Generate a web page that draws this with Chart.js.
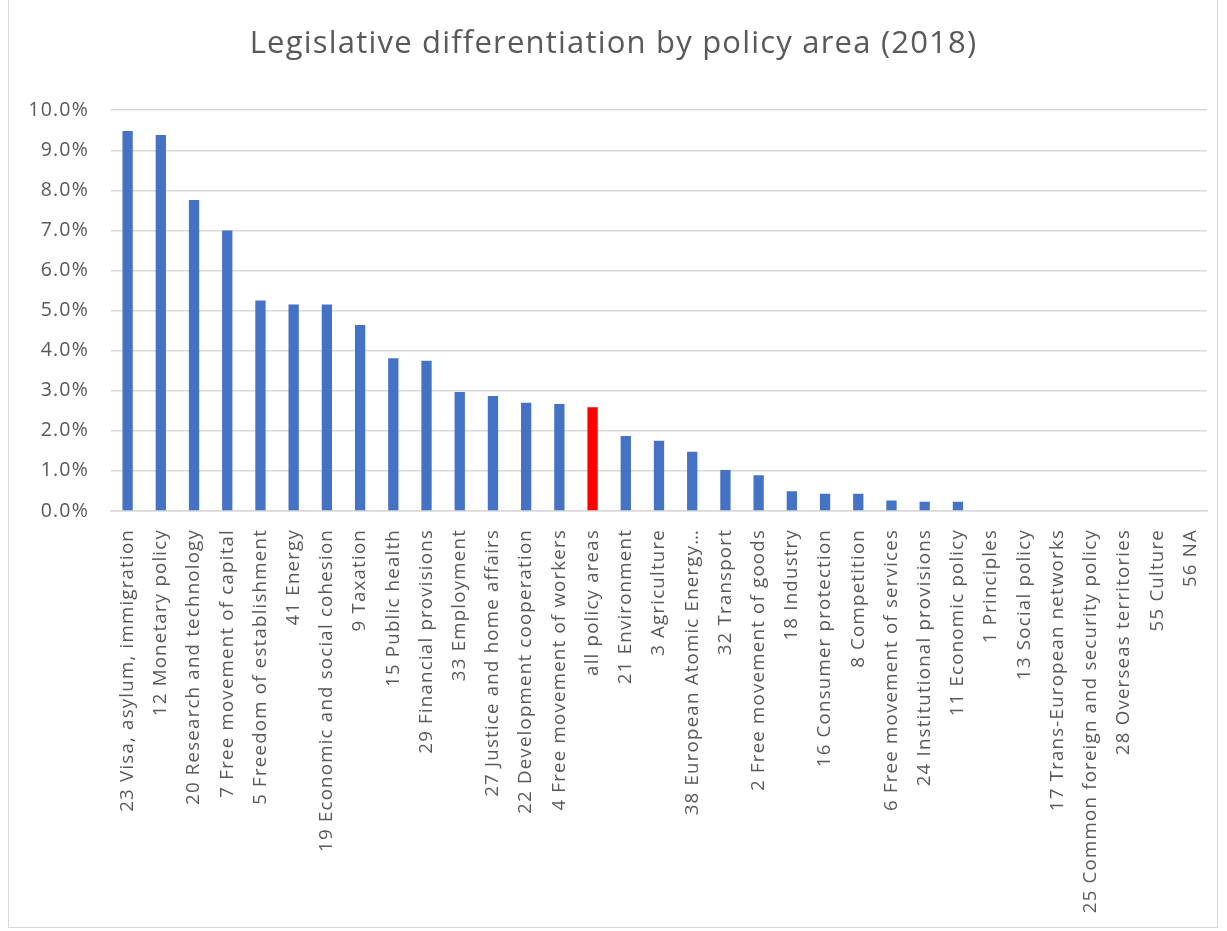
<!DOCTYPE html>
<html>
<head>
    <title>Legislative differentiation by policy area (2018)</title>
    <script src="https://cdn.jsdelivr.net/npm/chart.js"></script>
    <style>
        html, body { margin: 0; padding: 0; background: #fff; }
        #wrap { position: absolute; left: 8px; top: 0; width: 1210px; height: 928px; border: 1px solid #d9d9d9; border-top: none; box-sizing: border-box; }
        #holder { position: absolute; left: 0; top: 0; width: 1227px; height: 931px; }
    </style>
</head>
<body>
    <div id="wrap"></div>
    <div id="holder"><canvas id="diffChart"></canvas></div>

    <script>
        const categories = [
            "23 Visa, asylum, immigration", "12 Monetary policy", "20 Research and technology",
            "7 Free movement of capital", "5 Freedom of establishment", "41 Energy",
            "19 Economic and social cohesion", "9 Taxation", "15 Public health",
            "29 Financial provisions", "33 Employment", "27 Justice and home affairs",
            "22 Development cooperation", "4 Free movement of workers", "all policy areas",
            "21 Environment", "3 Agriculture", "38 European Atomic Energy\u2026",
            "32 Transport", "2 Free movement of goods", "18 Industry",
            "16 Consumer protection", "8 Competition", "6 Free movement of services",
            "24 Institutional provisions", "11 Economic policy", "1 Principles",
            "13 Social policy", "17 Trans-European networks", "25 Common foreign and security policy",
            "28 Overseas territories", "55 Culture", "56 NA"
        ];

        // share of differentiated legislation, in percent
        const values = [
            9.48, 9.38, 7.76, 7.00, 5.25, 5.15, 5.15, 4.64, 3.81,
            3.75, 2.97, 2.87, 2.70, 2.67, 2.59, 1.87, 1.75, 1.48,
            1.02, 0.89, 0.49, 0.43, 0.43, 0.26, 0.23, 0.23, 0,
            0, 0, 0, 0, 0, 0
        ];

        const yTicks = [0, 1, 2, 3, 4, 5, 6, 7, 8, 9, 10];

        const textColor = '#595959';
        const barColors = categories.map(c => c === 'all policy areas' ? '#FF0000' : '#4472C4');

        // the original text is a bit spaced out, so widen it a little
        const spacing = {
            id: 'spacing',
            beforeDraw(chart) { chart.ctx.letterSpacing = '1.2px'; }
        };

        const ctx = document.getElementById('diffChart').getContext('2d');
        new Chart(ctx, {
            type: 'bar',
            data: {
                labels: categories,
                datasets: [{
                    data: values,
                    backgroundColor: barColors,
                    categoryPercentage: 1,
                    barPercentage: 0.31
                }]
            },
            plugins: [spacing],
            options: {
                responsive: true,
                maintainAspectRatio: false,
                animation: false,
                layout: { padding: { left: 20, right: 20, top: 26, bottom: 16 } },
                plugins: {
                    legend: { display: false },
                    tooltip: { enabled: false },
                    title: {
                        display: true,
                        text: 'Legislative differentiation by policy area (2018)',
                        color: textColor,
                        font: { family: 'Open Sans', size: 31, weight: 'normal' },
                        padding: { top: 0, bottom: 47 }
                    }
                },
                scales: {
                    y: {
                        min: 0,
                        max: 10,
                        afterBuildTicks: s => { s.ticks = yTicks.map(v => ({ value: v })); },
                        afterFit: s => { s.width = 91; },
                        ticks: {
                            color: textColor,
                            font: { family: 'Open Sans', size: 19.5 },
                            padding: 22,
                            callback: v => v.toFixed(1) + '%'
                        },
                        grid: { color: '#d9d9d9', lineWidth: 1.5, drawTicks: false },
                        border: { display: false }
                    },
                    x: {
                        afterFit: s => { s.height = 404; },
                        ticks: {
                            autoSkip: false,
                            maxRotation: 90,
                            minRotation: 90,
                            color: textColor,
                            font: { family: 'Open Sans', size: 18.7 },
                            padding: 10
                        },
                        grid: { display: false },
                        border: { color: '#d9d9d9', width: 1.5 }
                    }
                }
            }
        });
    </script>
</body>
</html>
